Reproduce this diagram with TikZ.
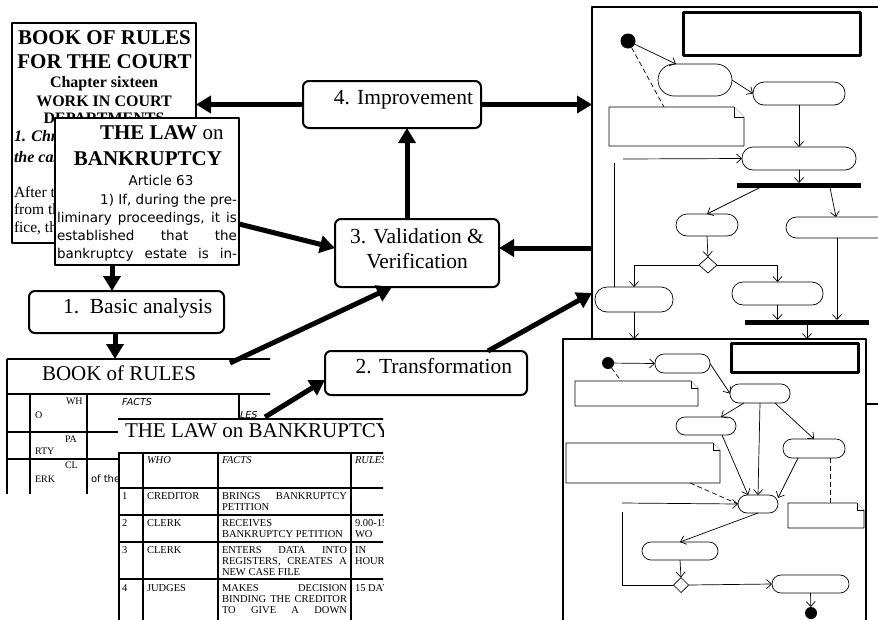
\documentclass[tikz,border=0pt]{standalone}
\usepackage{fontspec}
\setmainfont{Liberation Serif}
\setsansfont{DejaVu Sans}
\usepackage{tikz}
\usetikzlibrary{arrows,arrows.meta,shapes.geometric,positioning}

\newcommand{\bigserif}{\fontsize{21.5}{21.5}\selectfont}
\newcommand{\midserif}{\fontsize{16}{16}\selectfont}
\newcommand{\tabfont}{\fontsize{10.5}{10.5}\selectfont}
\newcommand{\parfont}{\sffamily\fontsize{13.5}{13.5}\selectfont}
% note with a folded corner, drawn round an empty node
\newcommand{\notefold}[2]{%
  \draw[notepath] (#1.north west) -- ([xshift=-#2]#1.north east) -- ([yshift=-#2]#1.north east)
    -- (#1.south east) -- (#1.south west) -- cycle;
  \draw[notepath] ([xshift=-#2]#1.north east) -- ([xshift=-#2,yshift=-#2]#1.north east) -- ([yshift=-#2]#1.north east);}

\begin{document}
\begin{tikzpicture}[x=1pt,y=-1pt,line join=round]
 \tikzstyle{every node}=[inner sep=0pt,outer sep=0pt]
 \tikzstyle{sheet}=[draw,line width=1.8pt,fill=white,anchor=north west]
 \tikzstyle{proc}=[draw,line width=2pt,rounded corners=6pt,fill=white,anchor=north west]
 \tikzstyle{big}=[line width=5pt,-{Triangle[length=15pt,width=17pt]}]
 \tikzstyle{act}=[draw,line width=0.7pt,rounded corners=9pt,fill=white,anchor=north west]
 \tikzstyle{bar}=[fill=black,anchor=north west,minimum height=4.5pt]
 \tikzstyle{dot}=[circle,fill=black]
 \tikzstyle{choice}=[diamond,draw,line width=0.7pt,fill=white]
 \tikzstyle{flow}=[line width=0.7pt,-{Straight Barb[length=5pt,width=9pt]}]
 \tikzstyle{link}=[line width=0.7pt,dash pattern=on 5pt off 3pt]
 \tikzstyle{notepath}=[line width=0.7pt,fill=white]
 \tikzstyle{titlebox}=[draw,line width=3pt,anchor=north west]
 \tikzstyle{tabline}=[line width=1.2pt]
 \tikzstyle{txt}=[anchor=base west]
 \tikzstyle{cell}=[anchor=base west,font=\tabfont]

 \useasboundingbox (0,0) rectangle (878,619);
 \clip (0,0) rectangle (878,619);

 % book of rules and the law
 \node[sheet,minimum width=184pt,minimum height=220pt] (rules) at (12,23) {};
 \node[anchor=base,font=\bfseries\fontsize{21}{21}\selectfont] (r1) at (104.5,44) {BOOK OF RULES};
 \node[anchor=base,font=\bfseries\fontsize{21}{21}\selectfont] (r2) at (104.5,68) {FOR THE COURT};
 \node[anchor=base,font=\bfseries\midserif] (r3) at (104,87) {Chapter sixteen};
 \node[anchor=base,font=\bfseries\midserif] (r4) at (104,106) {WORK IN COURT};
 \node[anchor=base,font=\bfseries\midserif] (r5) at (104,123) {DEPARTMENTS};
 \node[txt,font=\bfseries\itshape\midserif] (r6) at (14,141) {1. Chr};
 \node[txt,font=\bfseries\itshape\midserif] (r7) at (14,162) {the cas};
 \node[txt,font=\fontsize{15.5}{15.5}\selectfont] (r8) at (14,197) {After t};
 \node[txt,font=\fontsize{15.5}{15.5}\selectfont] (r9) at (14,214) {from th};
 \node[txt,font=\fontsize{15.5}{15.5}\selectfont] (r10) at (14,232) {fice, th};

 \node[sheet,minimum width=184pt,minimum height=147pt] (law) at (55,118) {};
 \node[txt,font=\fontsize{21}{21}\selectfont] (l1) at (100,139) {\textbf{THE LAW} on};
 \node[anchor=base,font=\bfseries\fontsize{21}{21}\selectfont] (l2) at (148,165) {BANKRUPTCY};
 \node[anchor=base,font=\parfont] (l3) at (161,185) {Article 63};
 \node[anchor=base east,font=\parfont] (l4) at (237,204) {1) If, during the pre-};
 \node[txt,font=\parfont] (l5) at (57,222.5) {\makebox[180pt][s]{liminary proceedings, it is}};
 \node[txt,font=\parfont] (l6) at (57,240.5) {\makebox[180pt][s]{established that the}};
 \node[txt,font=\parfont] (l7) at (57,258.5) {\makebox[180pt][s]{bankruptcy estate is in-}};

 % tables
 \node[anchor=north west,minimum width=263pt,minimum height=135pt] (book) at (7,359) {};
 \begin{scope}
  \clip (0,350) rectangle (270,493);
  \foreach \y in {359,394,432} \draw[tabline] (7,\y) -- (280,\y);
  \draw[tabline,line width=1.8pt] (7,459) -- (280,459);
  \draw[tabline] (7,359) -- (7,500);
  \foreach \x in {30,87,239} \draw[tabline] (\x,394) -- (\x,500);
  \node[txt,font=\fontsize{21}{21}\selectfont] (booktitle) at (42,380) {BOOK of RULES};
  \node[cell,font=\fontsize{10}{10}\selectfont] (b1) at (66,404) {WH};
  \node[cell,font=\fontsize{10}{10}\selectfont] (b2) at (35,418) {O};
  \node[cell,font=\fontsize{10}{10}\selectfont] (b3) at (65,442) {PA};
  \node[cell,font=\fontsize{10}{10}\selectfont] (b4) at (35,454) {RTY};
  \node[cell,font=\fontsize{10}{10}\selectfont] (b5) at (65,468) {CL};
  \node[cell,font=\fontsize{10}{10}\selectfont] (b6) at (35,482) {ERK};
  \node[cell,font=\sffamily\itshape\fontsize{9.5}{9.5}\selectfont] (b7) at (122,405) {FACTS};
  \node[cell,font=\sffamily\itshape\fontsize{9.5}{9.5}\selectfont] (b8) at (240,418) {LES};
  \node[cell,font=\sffamily\fontsize{10}{10}\selectfont] (b9) at (91,482) {of the p};
 \end{scope}

 \node[anchor=north west,fill=white,minimum width=282pt,minimum height=210pt] (lawtab) at (118,419) {};
 \begin{scope}
  \clip (110,410) rectangle (383,619);
  \draw[tabline] (118,419) -- (390,419);
  \draw[tabline,line width=1.8pt] (118,453) -- (390,453);
  \foreach \y in {488,515,542} \draw[tabline] (118,\y) -- (390,\y);
  \draw[tabline,line width=1.8pt] (118,579) -- (390,579);
  \foreach \x in {119,143,218,351} \draw[tabline,line width=1.6pt] (\x,453) -- (\x,625);
  \node[txt,font=\fontsize{21}{21}\selectfont] (lawtitle) at (125,437) {THE LAW on BANKRUPTCY};
  \node[cell,font=\tabfont\itshape] (h1) at (147,463) {WHO};
  \node[cell,font=\tabfont\itshape] (h2) at (222,463) {FACTS};
  \node[cell,font=\tabfont\itshape] (h3) at (355,463) {RULES};
  \node[cell] (c11) at (122,499) {1};
  \node[cell] (c12) at (147,499) {CREDITOR};
  \node[cell] (c13) at (222,499) {\makebox[125pt][s]{BRINGS BANKRUPTCY}};
  \node[cell] (c14) at (222,510) {PETITION};
  \node[cell] (c21) at (122,526) {2};
  \node[cell] (c22) at (147,526) {CLERK};
  \node[cell] (c23) at (222,526) {RECEIVES};
  \node[cell] (c24) at (222,537) {BANKRUPTCY PETITION};
  \node[cell] (c25) at (355,526) {9.00-15};
  \node[cell] (c26) at (355,537) {WO};
  \node[cell] (c31) at (122,553) {3};
  \node[cell] (c32) at (147,553) {CLERK};
  \node[cell] (c33) at (222,553) {\makebox[125pt][s]{ENTERS DATA INTO}};
  \node[cell] (c34) at (222,564) {\makebox[125pt][s]{REGISTERS, CREATES A}};
  \node[cell] (c35) at (222,575) {NEW CASE FILE};
  \node[cell] (c36) at (355,553) {IN};
  \node[cell] (c37) at (355,564) {HOURS};
  \node[cell] (c41) at (122,591) {4};
  \node[cell] (c42) at (147,591) {JUDGES};
  \node[cell] (c43) at (222,591) {\makebox[125pt][s]{MAKES DECISION}};
  \node[cell] (c44) at (222,602) {\makebox[125pt][s]{BINDING THE CREDITOR}};
  \node[cell] (c45) at (222,613) {\makebox[125pt][s]{TO GIVE A DOWN}};
  \node[cell] (c46) at (355,591) {15 DAYS};
 \end{scope}

 % process steps
 \node[proc,minimum width=178pt,minimum height=47pt] (impr) at (303,81) {};
 \node[anchor=base east,font=\bigserif] (imprlabel) at (473,104) {4. Improvement};
 \node[proc,minimum width=164pt,minimum height=68pt] (valid) at (335,219) {};
 \node[anchor=base,font=\bigserif] (validlabel) at (417,243) {3. Validation \&};
 \node[anchor=base,font=\bigserif] (validlabel2) at (417,268) {Verification};
 \node[proc,minimum width=195pt,minimum height=42pt] (basic) at (29,291) {};
 \node[txt,font=\bigserif] (basiclabel) at (63,313) {1.\ \ Basic analysis};
 \node[proc,minimum width=202pt,minimum height=44pt] (trans) at (325,351) {};
 \node[anchor=base east,font=\bigserif] (translabel) at (512,373) {2. Transformation};

 % activity diagram, first version
 \node[draw,line width=1.6pt,fill=white,anchor=north west,minimum width=320pt,minimum height=397pt] (tframe) at (592,7) {};
 \node[titlebox,minimum width=177pt,minimum height=43pt] (ttitle) at (683,12) {};
 \node[dot,minimum size=15pt] (tstart) at (628,41) {};
 \node[act,rounded corners=16pt,minimum width=74pt,minimum height=32pt] (ta1) at (658,64) {};
 \node[act,rounded corners=11pt,minimum width=92pt,minimum height=23pt] (ta2) at (753,82) {};
 \node[act,rounded corners=11pt,minimum width=114pt,minimum height=23pt] (ta3) at (742,147) {};
 \node[anchor=north west,minimum width=135pt,minimum height=39pt] (tnote) at (609,107) {};
 \notefold{tnote}{10pt}
 \node[bar,minimum width=124pt] (tfork1) at (737,183) {};
 \node[act,rounded corners=11pt,minimum width=62pt,minimum height=22pt] (ta4) at (676,214) {};
 \node[act,rounded corners=10.5pt,minimum width=119pt,minimum height=21pt] (ta5) at (786,217) {};
 \node[choice,minimum width=18pt,minimum height=16pt] (tdec) at (708,265) {};
 \node[act,rounded corners=11pt,minimum width=91pt,minimum height=23pt] (ta6) at (732,282) {};
 \node[act,rounded corners=12pt,minimum width=78pt,minimum height=25pt] (ta7) at (595,287) {};
 \node[bar,minimum width=124pt] (tfork2) at (745,320) {};
 \coordinate (tin) at (623,159);
 \coordinate (tloop) at (614,163);

 \path[flow]
  (tstart) edge ([xshift=18pt]ta1.north west)
  (ta1.east) edge (ta2.west)
  (ta2.south) edge (ta3.north)
  (tin) edge (ta3.west)
  (ta3.south) edge (ta3.south |- tfork1.north)
  ([xshift=23pt]tfork1.south west) edge (ta4.north)
  ([xshift=93pt]tfork1.south west) edge ([xshift=50pt]ta5.north west)
  (ta4.south) edge (tdec.north)
  ([xshift=51pt]ta5.south west) edge ([xshift=51pt]ta5.south west |- tfork2.north)
  (ta6.south) edge (ta6.south |- tfork2.north)
  (tfork2.south) edge (tfork2.south |- 0,339)
  (ta7.south) edge (ta7.south |- 0,339);
 \draw[flow] (tdec.west) -| (ta7.north);
 \draw[flow] (tdec.east) -| (ta6.north);
 \draw[line width=0.7pt] (tloop) -- (tloop |- ta7.north);
 \path[link] (tstart) edge ([xshift=55pt]tnote.north west);

 % activity diagram, second version
 \node[draw,line width=1.8pt,fill=white,anchor=north west,minimum width=303pt,minimum height=300pt] (bframe) at (563,339) {};
 \node[titlebox,minimum width=127pt,minimum height=29pt] (btitle) at (731,343) {};
 \node[dot,minimum size=12pt] (bstart) at (608,363) {};
 \node[act,minimum width=55pt,minimum height=19pt] (bb1) at (655,354) {};
 \node[anchor=north west,minimum width=123pt,minimum height=25pt] (bnote1) at (575,381) {};
 \notefold{bnote1}{7pt}
 \node[act,minimum width=60pt,minimum height=19pt] (bb2) at (730,384) {};
 \node[act,minimum width=60pt,minimum height=18pt] (bb3) at (676,417) {};
 \node[act,minimum width=62pt,minimum height=19pt] (bb4) at (783,439) {};
 \node[anchor=north west,minimum width=154pt,minimum height=40pt] (bnote2) at (566,443) {};
 \notefold{bnote2}{7pt}
 \node[anchor=north west,minimum width=76pt,minimum height=25pt] (bnote3) at (788,503) {};
 \notefold{bnote3}{7pt}
 \node[act,minimum width=40pt,minimum height=18pt] (bb6) at (738,495) {};
 \node[act,minimum width=76pt,minimum height=18pt] (bb5) at (642,542) {};
 \node[choice,minimum width=15pt,minimum height=15pt] (bdec) at (681,585) {};
 \node[act,minimum width=77pt,minimum height=18pt] (bb7) at (772,575) {};
 \node[dot,minimum size=12pt] (bend) at (811,613) {};
 \coordinate (bin) at (622,503);
 \coordinate (bloop) at (622,512);

 \path[flow]
  (bstart) edge (bb1.west)
  (bb1.east) edge (bb2.west)
  ([xshift=14pt]bb2.south west) edge ([xshift=15pt]bb3.north)
  (bb2.south) edge (bb6.north)
  ([xshift=-15pt]bb2.south east) edge (bb4.north)
  ([xshift=16pt]bb3.south) edge ([xshift=-10pt]bb6.north)
  ([xshift=-16pt]bb4.south) edge ([yshift=-3pt]bb6.north east)
  (bin) edge (bb6.west)
  (bb6.south) edge (bb5.north)
  (bb5.south) edge (bdec.north)
  (bdec.east) edge (bb7.west)
  (bb7.south) edge (bend);
 \draw[line width=0.7pt] (bloop) |- (bdec.west);
 \path[link]
  (bstart) edge ([xshift=46pt]bnote1.north west)
  ([xshift=16pt]bb4.south) edge ([xshift=16pt]bb4.south |- bnote3.north)
  ([xshift=124pt]bnote2.south west) edge (bb6.west);

 % thick arrows between the steps
 \draw[big] (impr.west) -- (rules.east |- impr.west);
 \draw[big] (impr.east) -- (tframe.west |- impr.east);
 \draw[big] ([xshift=-10pt]valid.north) -- ([xshift=-10pt]valid.north |- impr.south);
 \draw[big] ([yshift=-32.5pt]law.east) -- ([yshift=5pt]valid.west);
 \draw[big] (tframe.west |- 0,248) -- ([yshift=5pt]valid.east);
 \draw[big] ([xshift=-35pt]law.south) -- ([xshift=-35pt]law.south |- basic.north);
 \draw[big] ([xshift=-11.5pt]basic.south) -- ([xshift=-11.5pt]basic.south |- book.north);
 \draw[big] ([xshift=223pt,yshift=-4pt]book.north west) -- ([xshift=-25pt]valid.south);
 \draw[big] ([xshift=147pt,yshift=2pt]lawtab.north west) -- ([yshift=-7pt]trans.west);
 \draw[big] ([xshift=62pt]trans.north) -- (tframe.west |- 0,293);
\end{tikzpicture}
\end{document}
